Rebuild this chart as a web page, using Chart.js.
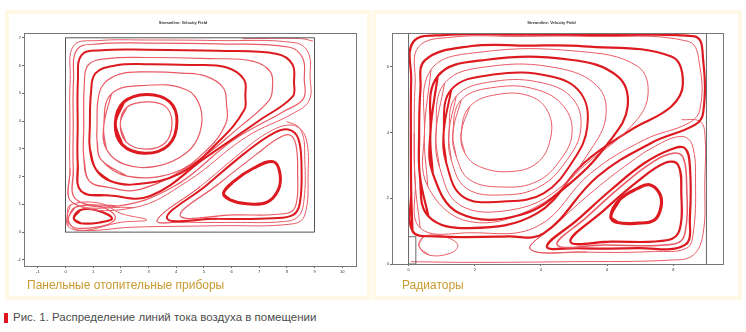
<!DOCTYPE html>
<html lang="ru">
<head>
<meta charset="utf-8">
<script src="https://cdn.jsdelivr.net/npm/chart.js@4.4.1/dist/chart.umd.min.js"></script>
<style>
body{margin:0;background:#fff;width:746px;height:332px;overflow:hidden;position:relative;font-family:"Liberation Sans",Arial,sans-serif;}
.panel{position:absolute;top:10px;height:282px;border:4px solid #fef8e4;background:#fff;}
.cv{position:absolute;}
.cap{position:absolute;top:278px;font-size:12px;color:#c99a2e;}
#fig{position:absolute;left:13px;top:311px;font-size:11.5px;color:#4d4d4d;}
#mark{position:absolute;left:4px;top:313px;width:4px;height:10px;background:#e0141e;}
</style>
</head>
<body>
<div class="panel" style="left:5px;width:358px;"></div>
<div class="panel" style="left:372px;width:362px;"></div>
<div class="cv" style="left:10px;top:20px;width:352px;height:262px;"><canvas id="c_left"></canvas></div>
<div class="cv" style="left:380px;top:20px;width:350px;height:262px;"><canvas id="c_right"></canvas></div>
<div class="cap" style="left:27px;">Панельные отопительные приборы</div>
<div class="cap" style="left:402px;">Радиаторы</div>
<div id="mark"></div>
<div id="fig">Рис. 1. Распределение линий тока воздуха в помещении</div>
<script>
// подписи
var v_title = "Streamline: Velocity Field";
var v_left_xticks = [-1,0,1,2,3,4,5,6,7,8,9,10];
var v_left_yticks = [-1,0,1,2,3,4,5,6,7];
var v_right_xticks = [0,2,4,6,8];
var v_right_yticks = [0,2,4,6];

// левая схема: стены комнаты
var v_left_room = [[0,0],[9,0],[9,7],[0,7],[0,0]];

// левая схема: большой вихрь (изнутри наружу)
var v_left_main = [
  [[1.98,3.92],[2.22,4.50],[2.94,4.69],[3.62,4.52],[3.85,3.92],[3.61,3.22],[2.88,2.99],[2.18,3.26]],
  [[1.80,3.92],[2.10,4.68],[2.94,4.96],[3.76,4.70],[4.03,3.98],[3.73,3.14],[2.86,2.84],[2.04,3.16]],
  [[1.38,3.80],[1.66,4.98],[2.94,5.29],[4.35,5.14],[4.87,4.51],[4.85,3.56],[4.35,2.84],[3.31,2.38],[2.14,2.44],[1.48,2.98]],
  [[1.28,2.62],[1.14,3.30],[1.14,3.80],[1.18,4.80],[1.40,5.36],[2.00,5.70],[2.94,5.77],[4.20,5.73],[5.07,5.62],[5.70,5.20],[5.82,4.60],[5.80,3.92],[5.11,2.96],[3.91,2.14],[2.22,2.02]],
  [[1.10,2.26],[0.88,3.00],[0.88,3.80],[0.92,5.00],[1.08,5.72],[1.80,6.00],[2.94,6.05],[4.50,6.02],[5.80,5.94],[6.45,5.50],[6.50,4.90],[6.46,4.40],[5.59,3.32],[4.15,2.12],[2.46,1.72],[1.60,1.85]],
  [[0.86,1.84],[0.66,2.70],[0.66,3.80],[0.68,5.30],[0.82,6.02],[1.50,6.25],[2.94,6.29],[5.20,6.25],[6.76,6.16],[7.40,5.78],[7.48,5.20],[7.36,4.75],[6.31,3.80],[4.63,2.48],[2.70,1.54],[1.60,1.60]],
  [[0.56,1.48],[0.44,2.50],[0.44,3.80],[0.45,5.50],[0.58,6.38],[1.30,6.55],[2.94,6.57],[5.50,6.53],[7.65,6.42],[8.20,6.05],[8.26,5.40],[8.20,4.87],[7.03,4.04],[5.11,2.72],[3.06,1.30],[1.60,1.32]],
  [[0.38,1.18],[0.28,2.30],[0.28,3.80],[0.29,5.50],[0.42,6.58],[1.20,6.78],[2.94,6.81],[5.50,6.78],[8.10,6.66],[8.58,6.25],[8.63,5.50],[8.60,4.81],[7.87,4.34],[6.07,3.32],[3.91,1.64],[1.86,0.94]],
  [[0.26,1.06],[0.16,2.30],[0.16,3.80],[0.17,5.50],[0.30,6.72],[1.20,6.90],[2.94,6.92],[5.50,6.90],[8.30,6.82],[8.78,6.45],[8.84,5.60],[8.81,4.75],[8.23,4.28],[6.55,3.44],[4.39,1.82],[2.46,0.88]]
];
// левая схема: нижний правый вихрь
var v_left_low = [
  [[5.71,1.40],[6.07,1.82],[6.79,2.30],[7.51,2.54],[7.75,2.12],[7.69,1.52],[7.27,1.07],[6.55,1.02],[5.95,1.16]],
  [[4.15,0.59],[5.59,1.78],[6.91,2.81],[7.69,3.38],[8.11,3.50],[8.33,3.14],[8.39,2.12],[8.33,0.98],[8.02,0.68],[6.07,0.62]],
  [[3.67,0.50],[5.11,1.70],[6.55,2.90],[7.51,3.56],[8.05,3.70],[8.41,3.38],[8.53,2.36],[8.47,1.04],[8.23,0.62],[7.51,0.50],[5.47,0.48]],
  [[3.31,0.42],[4.87,1.64],[6.31,2.84],[7.27,3.56],[8.11,3.86],[8.53,3.62],[8.65,2.60],[8.62,1.16],[8.41,0.56],[7.87,0.38],[6.07,0.35],[4.27,0.36]]
];
// левая схема: малый вихрь у пола
var v_left_small = [
  [[0.30,0.50],[0.54,0.80],[1.14,0.78],[1.68,0.50],[1.26,0.35],[0.54,0.32]],
  [[0.12,0.56],[0.36,0.90],[1.26,0.92],[1.80,0.56],[1.50,0.26],[0.42,0.14],[0.12,0.32]],
  [[0.06,0.56],[0.18,0.98],[1.26,1.04],[1.98,0.68],[2.94,0.44],[1.98,0.35],[0.66,0.06],[0.10,0.20]]
];
// левая схема: открытые линии у пола и потолка
var v_left_open = [
  [[0.06,0.44],[0.42,0.08],[2.46,0.18],[5.47,0.23],[8.23,0.30],[8.65,0.62],[8.77,2.12],[8.71,3.32],[8.41,3.80],[7.99,3.98]],
  [[6.4,6.97],[8.5,6.97],[8.95,6.88]]
];

// правая схема: стены и радиатор
var v_right_walls = [
  [[0,0],[0,7.03]],
  [[9,0],[9,7.03]],
  [[0,0],[0.22,0],[0.22,0.83],[0,0.83]]
];
// правая схема: большой вихрь
var v_right_main = [
  [[1.59,3.98],[1.85,4.79],[2.66,5.15],[3.68,5.10],[4.23,4.59],[4.28,3.78],[3.88,3.07],[3.07,2.81],[2.15,2.96],[1.70,3.37]],
  [[1.34,3.98],[1.59,4.99],[2.66,5.38],[3.88,5.30],[4.69,4.79],[4.94,3.98],[4.59,3.17],[3.88,2.51],[2.86,2.34],[1.85,2.56],[1.44,3.27]],
  [[1.22,3.98],[1.44,5.10],[2.56,5.55],[4.08,5.50],[4.99,4.99],[5.20,4.08],[4.79,3.17],[3.98,2.36],[2.86,2.10],[1.75,2.30],[1.29,3.17]],
  [[1.06,3.98],[1.29,5.30],[2.56,5.76],[4.28,5.71],[5.20,5.20],[5.40,4.18],[4.99,3.17],[4.08,2.15],[2.86,1.90],[1.64,2.05],[1.14,3.07]],
  [[0.83,3.98],[1.09,5.50],[2.46,6.01],[4.49,5.96],[5.71,5.40],[5.96,4.49],[5.50,3.47],[4.49,2.25],[3.07,1.64],[1.54,1.80],[0.93,2.96]],
  [[0.66,3.98],[0.88,5.71],[2.36,6.21],[4.89,6.21],[6.31,5.71],[6.62,4.79],[6.11,3.78],[4.89,2.46],[3.37,1.49],[1.54,1.54],[0.73,2.76]],
  [[0.48,3.98],[0.68,5.91],[2.15,6.44],[5.10,6.47],[6.92,6.01],[7.23,5.10],[6.72,4.18],[5.40,3.07],[3.88,1.75],[1.85,1.29],[0.58,2.36]],
  [[0.34,2.70],[0.32,3.98],[0.36,5.30],[0.50,6.20],[1.85,6.62],[3.60,6.64],[5.30,6.62],[7.94,6.31],[8.29,5.50],[7.94,4.79],[6.72,4.08],[5.30,3.07],[3.88,1.54],[1.85,1.09],[0.60,1.45]],
  [[0.20,2.50],[0.17,3.98],[0.20,5.50],[0.30,6.60],[1.34,6.90],[3.30,6.92],[5.40,6.92],[8.45,6.77],[8.80,6.01],[8.80,4.69],[8.45,4.28],[7.13,3.78],[5.50,2.76],[3.88,1.14],[1.85,0.95],[0.35,1.10]],
  [[0.08,2.20],[0.07,3.98],[0.08,5.60],[0.14,6.75],[1.04,6.96],[3.50,6.97],[5.91,6.96],[8.65,6.92],[8.90,6.21],[8.90,4.59],[8.65,4.23],[7.33,3.68],[5.71,2.66],[4.08,0.93],[3.00,0.84],[0.80,0.84],[0.12,1.00]]
];
// правая схема: нижний правый вихрь
var v_right_low = [
  [[6.11,1.44],[6.37,1.95],[6.92,2.30],[7.28,2.41],[7.58,2.15],[7.63,1.75],[7.43,1.34],[6.92,1.24],[6.31,1.26]],
  [[4.89,0.68],[5.91,1.64],[6.92,2.51],[7.74,3.07],[8.14,3.02],[8.24,2.15],[8.19,1.04],[7.84,0.73],[6.11,0.68]],
  [[4.49,0.58],[5.40,1.44],[6.42,2.36],[7.33,3.07],[7.99,3.37],[8.29,3.25],[8.40,2.46],[8.35,0.93],[8.04,0.61],[5.91,0.58]],
  [[4.18,0.53],[5.10,1.34],[6.11,2.25],[7.13,3.07],[7.94,3.49],[8.35,3.52],[8.50,2.96],[8.50,1.44],[8.35,0.58],[6.92,0.48],[5.10,0.48]],
  [[3.68,0.45],[4.49,1.24],[5.50,2.15],[6.52,2.96],[7.43,3.57],[8.24,3.88],[8.57,3.62],[8.67,2.46],[8.60,0.93],[8.40,0.48],[7.43,0.38],[5.40,0.36]]
];
// правая схема: малый вихрь у радиатора
var v_right_small = [
  [[0.32,0.53],[0.43,0.81],[0.83,0.88],[1.34,0.73],[1.49,0.53],[1.24,0.32],[0.63,0.27]]
];
// правая схема: линия вдоль пола и правой стены
var v_right_open = [
  [[0.07,0.07],[1.85,0.05],[4.89,0.07],[7.94,0.12],[8.60,0.27],[8.90,0.93],[8.95,2.46],[8.95,3.98],[8.80,4.34],[8.25,4.39]]
];

// толщина линий
var v_left_main_w = [1.2,3,1.2,1.2,2,1.2,2,1.2,1];
var v_left_low_w = [3,1.2,2,1];
var v_left_small_w = [2.2,1.2,1];
var v_right_main_w = [1,1,1,2,1,2.2,1,2.2,1,2.2];
var v_right_low_w = [3.2,2.2,1.5,2.2,1];

var v_thick = "#dc1a20";
var v_thin = "#e95a65";

function f_loop(p_pts){
  return [p_pts[p_pts.length-1]].concat(p_pts, [p_pts[0], p_pts[1]]);
}
function f_set(p_pts, p_w, p_closed, p_color, p_tension){
  return {
    data: p_closed ? f_loop(p_pts) : p_pts,
    showLine: true, pointRadius: 0, fill: false,
    borderWidth: p_w,
    borderColor: p_color || (p_w >= 2 ? v_thick : v_thin),
    tension: p_tension == null ? 0.4 : p_tension
  };
}
function f_group(p_arr, p_w, p_closed, p_out){
  for(var i=0; i<p_arr.length; i++){
    p_out.push(f_set(p_arr[i], p_w[i] || 1, p_closed));
  }
}

// рамка вокруг области графика
var v_frame = {
  id: "frame",
  afterDraw: function(chart){
    var a = chart.chartArea, ctx = chart.ctx;
    ctx.save();
    ctx.strokeStyle = "#777";
    ctx.lineWidth = 1;
    ctx.strokeRect(Math.round(a.left)+0.5, Math.round(a.top)+0.5, Math.round(a.right-a.left), Math.round(a.bottom-a.top));
    ctx.restore();
  }
};

function f_options(p_x, p_y, p_xt, p_yt, p_yw, p_xh, p_pad){
  return {
    responsive: true, maintainAspectRatio: false, animation: false,
    layout: {padding: p_pad},
    plugins: {
      legend: {display: false}, tooltip: {enabled: false},
      title: {display: true, text: v_title, font: {size: 4, weight: "bold"}, color: "#333", padding: {top: 0, bottom: 8}}
    },
    scales: {
      x: {
        type: "linear", min: p_x[0], max: p_x[1],
        afterBuildTicks: function(s){ s.ticks = p_xt.map(function(v){ return {value: v}; }); },
        afterFit: function(s){ s.height = p_xh; },
        ticks: {font: {size: 4}, color: "#333", padding: 1, autoSkip: false, maxRotation: 0},
        grid: {drawOnChartArea: false, tickLength: 2, color: "#666"},
        border: {display: false}
      },
      y: {
        type: "linear", min: p_y[0], max: p_y[1],
        afterBuildTicks: function(s){ s.ticks = p_yt.map(function(v){ return {value: v}; }); },
        afterFit: function(s){ s.width = p_yw; },
        ticks: {font: {size: 4}, color: "#333", padding: 1, autoSkip: false},
        grid: {drawOnChartArea: false, tickLength: 2, color: "#666"},
        border: {display: false}
      }
    }
  };
}

// левая схема
var v_lsets = [];
v_lsets.push(f_set(v_left_room, 1, false, "#555", 0));
f_group(v_left_main, v_left_main_w, true, v_lsets);
f_group(v_left_low, v_left_low_w, true, v_lsets);
f_group(v_left_small, v_left_small_w, true, v_lsets);
f_group(v_left_open, [1,1], false, v_lsets);

new Chart(document.getElementById("c_left").getContext("2d"), {
  type: "scatter",
  data: {datasets: v_lsets},
  options: f_options([-1.5,10.5], [-1.22,7.18], v_left_xticks, v_left_yticks, 14, 16, {top: 0, right: 6, bottom: 0, left: 0}),
  plugins: [v_frame]
});

// правая схема
var v_rsets = [];
for(var w=0; w<v_right_walls.length; w++){
  v_rsets.push(f_set(v_right_walls[w], 1, false, "#666", 0));
}
f_group(v_right_main, v_right_main_w, true, v_rsets);
f_group(v_right_low, v_right_low_w, true, v_rsets);
f_group(v_right_small, [1], true, v_rsets);
f_group(v_right_open, [1], false, v_rsets);

new Chart(document.getElementById("c_right").getContext("2d"), {
  type: "scatter",
  data: {datasets: v_rsets},
  options: f_options([-0.5,9.5], [0,7.03], v_right_xticks, v_right_yticks, 12, 18, {top: 0, right: 7, bottom: 0, left: 0}),
  plugins: [v_frame]
});
</script>
</body>
</html>
